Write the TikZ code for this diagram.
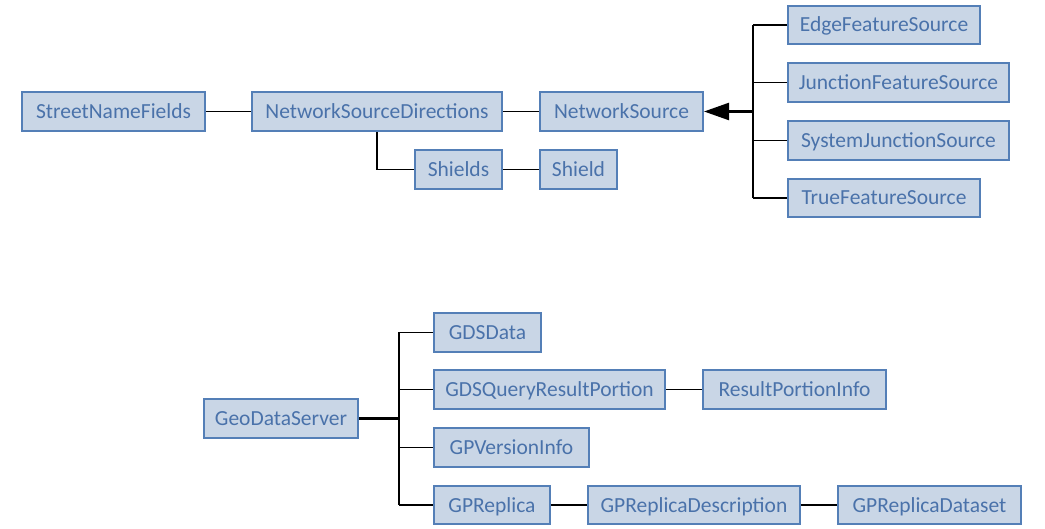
\documentclass[tikz,border=0pt]{standalone}
\usepackage{fontspec}
\setmainfont{Carlito}
\usetikzlibrary{arrows.meta,calc}
\definecolor{boxfill}{RGB}{201,214,230}
\definecolor{boxline}{RGB}{84,127,183}
\definecolor{boxtext}{RGB}{74,114,170}
\begin{document}
\begin{tikzpicture}[x=1pt,y=-1pt,
  box/.style={draw=boxline,fill=boxfill,line width=2pt,text=boxtext,inner sep=0pt,
    minimum height=39pt,font=\fontsize{21.5}{25}\selectfont,text height=14pt,text depth=0pt},
  link/.style={draw=black,line width=1.6pt},
  thicklink/.style={draw=black,line width=2.4pt}]
\useasboundingbox (0,0) rectangle (1045,529);
% top group
\node[box,minimum width=183pt] (snf) at (113.5,111.5) {StreetNameFields};
\node[box,minimum width=250pt] (nsd) at (377,111.5) {NetworkSourceDirections};
\node[box,minimum width=163pt] (ns) at (621.5,111.5) {NetworkSource};
\node[box,minimum width=87pt] (shields) at (458.5,169.5) {Shields};
\node[box,minimum width=77pt] (shield) at (578.5,169.5) {Shield};
\node[box,minimum width=192pt,minimum height=38pt] (efs) at (884,25) {EdgeFeatureSource};
\node[box,minimum width=221pt] (jfs) at (898.5,82.5) {JunctionFeatureSource};
\node[box,minimum width=221pt] (sjs) at (898.5,140.5) {SystemJunctionSource};
\node[box,minimum width=192pt,minimum height=38pt] (tfs) at (884,198) {TrueFeatureSource};
\draw[link] (snf.east) -- (nsd.west);
\draw[link] (nsd.east) -- (ns.west);
\draw[link] (shields.east) -- (shield.west);
\draw[link] (nsd.south) |- (shields.west);
\coordinate (tr) at (753,111.5);
\draw[link] (tr |- efs.west) -- (tr |- tfs.west);
\foreach \n in {efs,jfs,sjs,tfs} \draw[link] (tr |- \n.west) -- (\n.west);
\draw[thicklink,-{Triangle[length=25pt,width=17pt]}] (tr) -- (ns.east);
% bottom group
\node[box,minimum width=154pt] (gds) at (281,418.5) {GeoDataServer};
\node[box,minimum width=107pt] (gdsd) at (487.5,332.5) {GDSData};
\node[box,minimum width=231pt] (gqrp) at (549.5,389.5) {GDSQueryResultPortion};
\node[box,minimum width=183pt] (rpi) at (794.5,389.5) {ResultPortionInfo};
\node[box,minimum width=155pt] (gpvi) at (511.5,447.5) {GPVersionInfo};
\node[box,minimum width=116pt,minimum height=38pt] (gpr) at (492,505) {GPReplica};
\node[box,minimum width=212pt,minimum height=38pt] (gprd) at (694,505) {GPReplicaDescription};
\node[box,minimum width=183pt,minimum height=38pt] (gprds) at (929.5,505) {GPReplicaDataset};
\coordinate (tb) at (399,418.5);
\draw[thicklink] (gds.east) -- (tb);
\draw[link] (tb |- gdsd.west) -- (tb |- gpr.west);
\foreach \n in {gdsd,gqrp,gpvi,gpr} \draw[link] (tb |- \n.west) -- (\n.west);
\draw[link] (gqrp.east) -- (rpi.west);
\draw[link] (gpr.east) -- (gprd.west);
\draw[link] (gprd.east) -- (gprds.west);
\end{tikzpicture}
\end{document}
